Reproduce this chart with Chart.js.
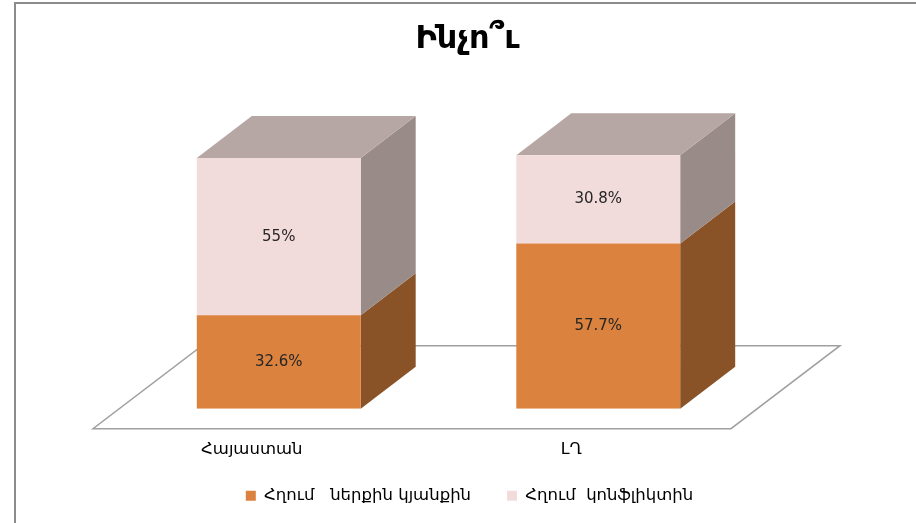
<!DOCTYPE html>
<html>
<head>
<meta charset="utf-8">
<script src="https://cdn.jsdelivr.net/npm/chart.js@4"></script>
<style>
  html, body { margin: 0; padding: 0; background: #fff; overflow: hidden; }
  #wrap { position: absolute; left: 14px; top: 2px; width: 910px; height: 530px; border: 2px solid #8c8c8c; box-sizing: border-box; }
  canvas { position: absolute; left: 0; top: 0; }
</style>
</head>
<body>
<div id="wrap"></div>
<canvas id="c" width="916" height="523"></canvas>
<script>
const categories = ['Հայաստան', 'ԼՂ'];
const seriesNames = ['Հղում   ներքին կյանքին', 'Հղում  կոնֆլիկտին'];
const internalLife = [32.6, 57.7];
const conflict = [55, 30.8];
const valueLabels = [['32.6%', '57.7%'], ['55%', '30.8%']];

const frontColors = ['#db823e', '#f2dcdb'];
const sideColors = ['#8a5327', '#998b88'];
const topColor = '#b6a6a4';
const FONT = '"DejaVu Sans"';
const depthX = 55, depthY = 42;

function face(ctx, pts, color) {
  ctx.fillStyle = color;
  ctx.beginPath();
  pts.forEach((p, i) => i ? ctx.lineTo(p[0], p[1]) : ctx.moveTo(p[0], p[1]));
  ctx.closePath();
  ctx.fill();
}

// the 3d look: floor, side and top faces hang off the real bar elements
const box3d = {
  id: 'box3d',
  afterLayout(chart) {
    chart.legend.left += 31; chart.legend.right += 31;
    chart.legend.top -= 31; chart.legend.bottom -= 31;
    chart.titleBlock.left += 29; chart.titleBlock.right += 29;
  },
  beforeDatasetsDraw(chart) {
    const ctx = chart.ctx, a = chart.chartArea, y0 = chart.scales.y.getPixelForValue(0);
    ctx.save();
    ctx.strokeStyle = '#a0a0a0';
    ctx.lineWidth = 1.5;
    ctx.beginPath();
    ctx.moveTo(a.left - 26, y0 + 20);
    ctx.lineTo(a.right - 27, y0 + 20);
    ctx.lineTo(a.right + 82, y0 - 63);
    ctx.lineTo(a.left + 83, y0 - 63);
    ctx.closePath();
    ctx.stroke();
    chart.data.datasets.forEach((ds, d) => {
      chart.getDatasetMeta(d).data.forEach(bar => {
        const r = bar.x + bar.width / 2, l = bar.x - bar.width / 2;
        face(ctx, [[r, bar.base], [r + depthX, bar.base - depthY], [r + depthX, bar.y - depthY], [r, bar.y]], sideColors[d]);
        if (d === chart.data.datasets.length - 1) {
          face(ctx, [[l, bar.y], [l + depthX, bar.y - depthY], [r + depthX, bar.y - depthY], [r, bar.y]], topColor);
        }
      });
    });
    ctx.restore();
  },
  afterDatasetsDraw(chart) {
    const ctx = chart.ctx;
    ctx.save();
    ctx.font = '15px ' + FONT;
    ctx.fillStyle = '#262626';
    ctx.textAlign = 'center';
    ctx.textBaseline = 'middle';
    chart.data.datasets.forEach((ds, d) => {
      chart.getDatasetMeta(d).data.forEach((bar, i) => {
        ctx.fillText(valueLabels[d][i], bar.x, (bar.y + bar.base) / 2);
      });
    });
    ctx.restore();
  }
};

new Chart(document.getElementById('c'), {
  type: 'bar',
  data: {
    labels: categories,
    datasets: [
      { label: seriesNames[0], data: internalLife, backgroundColor: frontColors[0] },
      { label: seriesNames[1], data: conflict, backgroundColor: frontColors[1] }
    ]
  },
  options: {
    responsive: false,
    animation: false,
    layout: { padding: { left: 119, right: 158, top: 20, bottom: -22 } },
    datasets: { bar: { barPercentage: 0.513, categoryPercentage: 1 } },
    scales: {
      x: {
        stacked: true,
        grid: { display: false },
        border: { display: false },
        ticks: { color: '#000', padding: 23, labelOffset: -27, font: { family: FONT, size: 16.5 } }
      },
      y: { stacked: true, display: false, min: 0, max: 100 }
    },
    plugins: {
      tooltip: { enabled: false },
      title: {
        display: true,
        text: 'Ինչո՞ւ',
        color: '#000',
        padding: { top: 0, bottom: 64 },
        font: { family: FONT, size: 32, weight: 'bold' }
      },
      legend: {
        position: 'bottom',
        labels: {
          boxWidth: 10, boxHeight: 10, padding: 36, color: '#000',
          font: { family: FONT, size: 16.5 }
        }
      }
    }
  },
  plugins: [box3d]
});
</script>
</body>
</html>
